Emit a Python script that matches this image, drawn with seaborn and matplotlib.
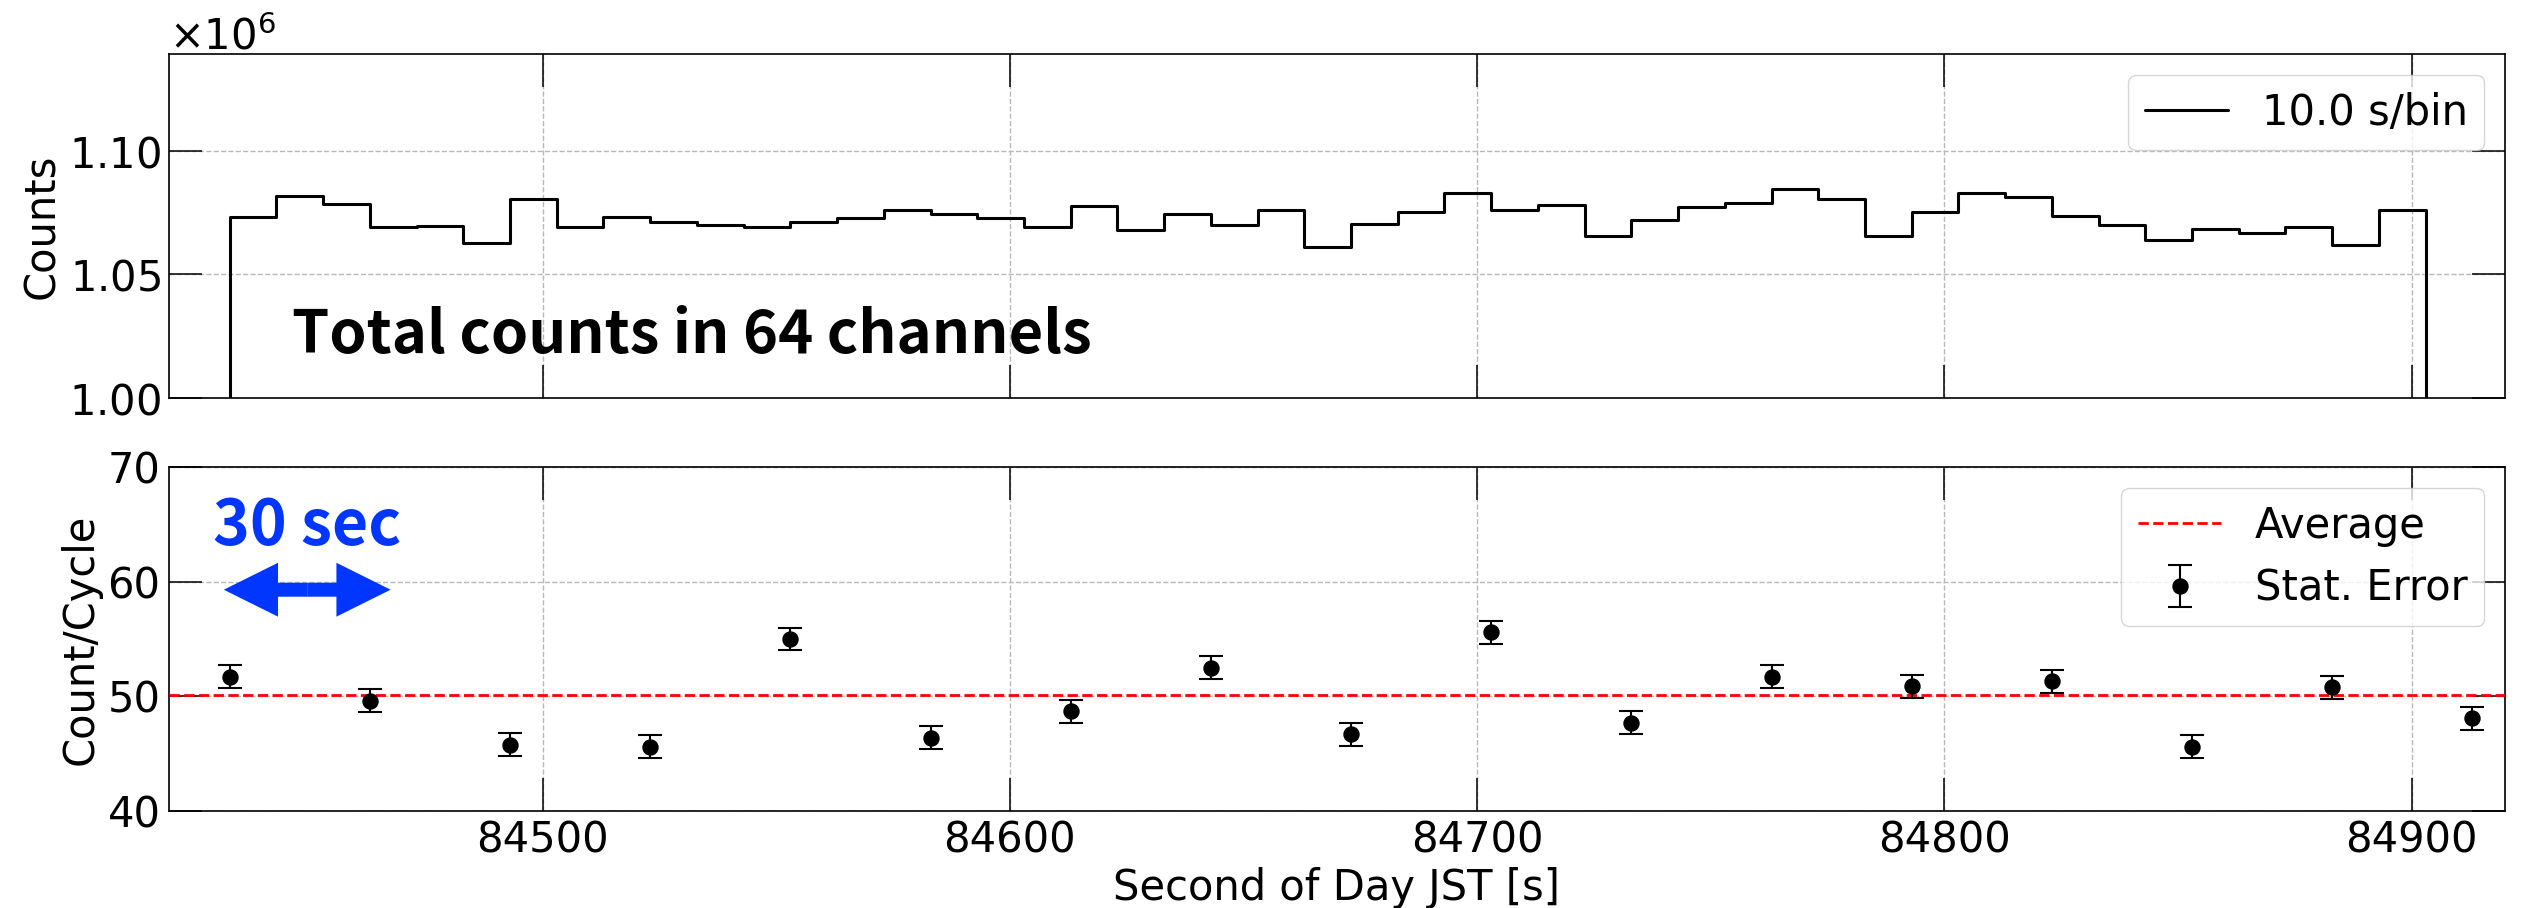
import numpy as np
import pandas as pd
import matplotlib
matplotlib.use("Agg")
import matplotlib.pyplot as plt
import seaborn as sns

# Total counts summed over 64 channels, 10-s bins starting at hist_start
hist_start = 84433.0
bin_width = 10.0
total_counts = [
    1073300, 1081600, 1078200, 1069300, 1069600, 1062600, 1080300, 1069300, 1073300, 1071300,
    1070000, 1069200, 1071300, 1072600, 1075900, 1074300, 1072900, 1069300, 1077700, 1067700,
    1074300, 1070100, 1075800, 1061100, 1070500, 1075200, 1083000, 1075900, 1077800, 1065500,
    1072000, 1077000, 1078900, 1084500, 1080500, 1065400, 1075200, 1082800, 1081200, 1073600,
    1070000, 1063800, 1068200, 1066800, 1069200, 1061800, 1075900,
]

# Counts per 30-s cycle with statistical errors
cycle_time = [84433, 84463, 84493, 84523, 84553, 84583, 84613, 84643, 84673,
              84703, 84733, 84763, 84793, 84823, 84853, 84883, 84913]
count_per_cycle = [51.7, 49.6, 45.8, 45.6, 55.0, 46.4, 48.7, 52.5, 46.7,
                   55.6, 47.7, 51.7, 50.9, 51.3, 45.6, 50.8, 48.1]
stat_error = [1.0, 1.0, 1.0, 1.0, 1.0, 1.0, 1.0, 1.0, 1.0,
              1.0, 1.0, 1.0, 1.0, 1.0, 1.0, 1.0, 1.0]
average_count = 50.1

x_ticks = [84500, 84600, 84700, 84800, 84900]
top_yticks = [1.00e6, 1.05e6, 1.10e6]
bot_yticks = [40, 50, 60, 70]

BLUE = "#0036ff"

sns.set_theme(style="white")
plt.rcParams.update({
    "font.family": ["DejaVu Sans"],
    "font.size": 30,
    "axes.labelsize": 30,
    "xtick.labelsize": 30,
    "ytick.labelsize": 30,
    "legend.fontsize": 30,
    "axes.edgecolor": "black",
    "axes.linewidth": 1.2,
    "axes.labelcolor": "black",
    "text.color": "black",
    "xtick.color": "black",
    "ytick.color": "black",
    "xtick.direction": "in",
    "ytick.direction": "in",
    "xtick.bottom": True,
    "xtick.top": True,
    "ytick.left": True,
    "ytick.right": True,
    "xtick.major.size": 24,
    "ytick.major.size": 24,
    "xtick.major.width": 1.1,
    "ytick.major.width": 1.1,
    "xtick.major.pad": 6,
    "ytick.major.pad": 6,
    "grid.color": "#b8b8b8",
    "grid.linestyle": "--",
    "grid.linewidth": 1.0,
    "legend.framealpha": 0.8,
    "legend.edgecolor": "0.8",
    "legend.fancybox": True,
})

fig, (ax_top, ax_bot) = plt.subplots(2, 1, figsize=(25.25, 9.08), dpi=100, sharex=True)
fig.subplots_adjust(left=0.0669, right=0.9921, top=0.9405, bottom=0.1068, hspace=0.2006)

# Upper panel: step histogram of total counts
edges = [hist_start + bin_width * i for i in range(len(total_counts) + 1)]
hist_df = pd.DataFrame({
    "time": [e + bin_width / 2 for e in edges[:-1]],
    "counts": total_counts,
})
sns.histplot(data=hist_df, x="time", weights="counts", bins=edges, element="step", fill=False,
             color="black", linewidth=2.2, ax=ax_top, label=f"{bin_width:.1f} s/bin")
# close the outline down to the baseline at both ends of the histogram
ax_top.vlines([edges[0], edges[-1]], 0, [total_counts[0], total_counts[-1]],
              color="black", linewidth=2.2)
ax_top.set_ylim(1.0e6, 1.139e6)
ax_top.set_yticks(top_yticks)
ax_top.ticklabel_format(axis="y", style="sci", scilimits=(0, 0), useMathText=True)
ax_top.set_ylabel("Counts")
ax_top.set_xlabel("")
ax_top.grid(True)
ax_top.set_axisbelow(True)
ax_top.legend(loc="upper right")
ax_top.text(0.0527, 0.131, "Total counts in 64 channels", transform=ax_top.transAxes,
            fontsize=43, fontweight="bold", family=["Noto Sans CJK JP", "DejaVu Sans"],
            ha="left", va="baseline")

# Lower panel: counts per cycle with errors and their average
ax_bot.axhline(average_count, color="red", ls="--", lw=2.0, label="Average", zorder=3)
ax_bot.errorbar(cycle_time, count_per_cycle, yerr=stat_error, fmt="o", color="black",
                ms=10.8, elinewidth=1.5, capsize=8.3, capthick=1.5, label="Stat. Error", zorder=4)
ax_bot.set_ylim(40, 70)
ax_bot.set_yticks(bot_yticks)
ax_bot.set_ylabel("Count/Cycle")
ax_bot.set_xlabel("Second of Day JST [s]")
ax_bot.grid(True)
ax_bot.set_axisbelow(True)
ax_bot.legend(loc="upper right")

# 30-s cycle length marker
arrow_x, arrow_y = 84449.6, 59.3
for direction in (-1, 1):
    ax_bot.arrow(arrow_x, arrow_y, direction * 17.85, 0, width=1.22, head_width=4.7,
                 head_length=11.6, length_includes_head=True, color=BLUE, lw=0, zorder=5)
ax_bot.text(arrow_x, 63.2, "30 sec", color=BLUE, fontsize=45, fontweight="bold",
            family=["Noto Sans CJK JP", "DejaVu Sans"], ha="center", va="baseline")

ax_bot.set_xlim(84420, 84920)
ax_bot.set_xticks(x_ticks)

fig.savefig("out.png", dpi=100)
